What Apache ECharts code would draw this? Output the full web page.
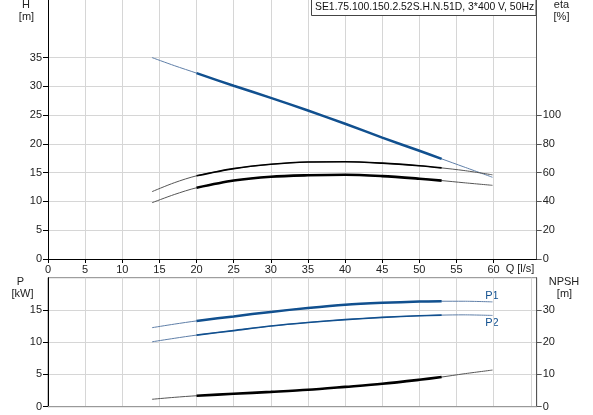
<!DOCTYPE html>
<html>
<head>
<meta charset="utf-8">
<script src="https://cdn.jsdelivr.net/npm/echarts@6/dist/echarts.min.js"></script>
<style>
  html, body { margin: 0; padding: 0; background: #fff; }
  #chart { width: 593px; height: 415px; }
</style>
</head>
<body>
<div id="chart"></div>
<script>
// flow points (l/s) where the curves were read
const flow = [14, 17, 20, 25, 30, 35, 40, 45, 50, 53, 56, 59.85];
const head = [35.0, 33.6, 32.3, 30.1, 28.0, 25.8, 23.5, 21.1, 18.8, 17.4, 16.0, 14.2];
const etaUpper = [46.8, 53.0, 57.8, 62.8, 65.8, 67.4, 67.6, 66.6, 64.8, 63.3, 61.5, 58.5];
const etaLower = [39.1, 44.8, 49.5, 54.5, 57.2, 58.2, 58.6, 57.6, 55.8, 54.5, 53.0, 51.2];
const powerP1 = [12.25, 12.8, 13.3, 14.0, 14.7, 15.3, 15.8, 16.1, 16.3, 16.35, 16.35, 16.25];
const powerP2 = [10.06, 10.6, 11.1, 11.8, 12.5, 13.05, 13.5, 13.85, 14.1, 14.2, 14.24, 14.15];
const npsh = [2.3, 2.9, 3.4, 4.0, 4.6, 5.25, 6.15, 7.1, 8.35, 9.2, 10.2, 11.36];

// operating range drawn thick
const opMin = 20, opMax = 53;

// tick labels
const qTicks = [0, 5, 10, 15, 20, 25, 30, 35, 40, 45, 50, 55, 60];
const hTicks = [0, 5, 10, 15, 20, 25, 30, 35];
const etaTicks = [0, 20, 40, 60, 80, 100];
const pTicks = [0, 5, 10, 15];
const npshTicks = [0, 10, 20, 30];

const title = 'SE1.75.100.150.2.52S.H.N.51D, 3*400 V, 50Hz';

const blue = '#11508f';
const font = 'Liberation Sans, Arial, sans-serif';

const pts = (ys) => flow.map((q, i) => [q, ys[i]]);
const opPts = (ys) => pts(ys).filter(p => p[0] >= opMin && p[0] <= opMax);

function curve(ys, xi, yi, color, thinColor, w) {
  return [
    { type: 'line', xAxisIndex: xi, yAxisIndex: yi, data: pts(ys), smooth: 0.3,
      showSymbol: false, silent: true, lineStyle: { color: thinColor, width: 1 } },
    { type: 'line', xAxisIndex: xi, yAxisIndex: yi, data: opPts(ys), smooth: 0.3,
      showSymbol: false, silent: true, lineStyle: { color: color, width: w, cap: 'butt' } }
  ];
}

const txt = { fontFamily: font, fontSize: 11, color: '#222' };
const grid = { color: '#d6d6d6', width: 1 };
const label = (x, y, text, fill) => ({
  type: 'text', x: x, y: y,
  style: { text: text, font: '11px ' + font, fill: fill || '#222', align: 'center', verticalAlign: 'middle' }
});

const myChart = echarts.init(document.getElementById('chart'));
myChart.setOption({
  animation: false,
  grid: [
    { left: 48, top: 0, right: 56.3, height: 259 },
    { left: 48, top: 277.7, right: 56.3, height: 129, show: true, borderColor: '#888', borderWidth: 1 }
  ],
  xAxis: [
    { gridIndex: 0, type: 'value', min: 0, max: 65.8, interval: 5,
      axisLine: { lineStyle: { color: '#000' } },
      axisTick: { customValues: qTicks, length: 4, lineStyle: { color: '#000' } },
      axisLabel: { customValues: qTicks, margin: 5, ...txt },
      splitLine: { lineStyle: grid } },
    { gridIndex: 1, type: 'value', min: 0, max: 65.8, interval: 5,
      axisLine: { lineStyle: { color: '#999' } },
      axisTick: { show: false }, axisLabel: { show: false },
      splitLine: { lineStyle: grid } }
  ],
  yAxis: [
    { gridIndex: 0, type: 'value', min: 0, max: 45, interval: 5,
      axisLine: { show: true, lineStyle: { color: '#000' } },
      axisTick: { show: true, customValues: hTicks, length: 5, lineStyle: { color: '#000' } },
      axisLabel: { customValues: hTicks, margin: 6, ...txt },
      splitLine: { lineStyle: grid } },
    { gridIndex: 0, type: 'value', position: 'right', min: 0, max: 180, interval: 20,
      axisLine: { show: true, lineStyle: { color: '#555' } },
      axisTick: { show: true, customValues: etaTicks, length: 5, lineStyle: { color: '#555' } },
      axisLabel: { customValues: etaTicks, margin: 6, ...txt },
      splitLine: { show: false } },
    { gridIndex: 1, type: 'value', min: 0, max: 20, interval: 5,
      axisLine: { show: true, lineStyle: { color: '#000' } },
      axisTick: { show: true, customValues: pTicks, length: 5, lineStyle: { color: '#000' } },
      axisLabel: { customValues: pTicks, margin: 6, ...txt },
      splitLine: { lineStyle: grid } },
    { gridIndex: 1, type: 'value', position: 'right', min: 0, max: 40, interval: 10,
      axisLine: { show: true, lineStyle: { color: '#555' } },
      axisTick: { show: true, customValues: npshTicks, length: 5, lineStyle: { color: '#555' } },
      axisLabel: { customValues: npshTicks, margin: 6, ...txt },
      splitLine: { show: false } }
  ],
  series: [
    ...curve(head, 0, 0, blue, '#5f7fa8', 2.5),
    ...curve(etaUpper, 0, 1, '#000', '#555', 1.6),
    ...curve(etaLower, 0, 1, '#000', '#555', 2.6),
    ...curve(powerP1, 1, 2, blue, '#5f7fa8', 2.5),
    ...curve(powerP2, 1, 2, blue, '#5f7fa8', 1.6),
    ...curve(npsh, 1, 3, '#000', '#555', 2.6)
  ],
  graphic: [
    { type: 'rect', shape: { x: 311.5, y: -1, width: 224.5, height: 16.5 },
      style: { fill: '#fff', stroke: '#444', lineWidth: 1 }, z: 100 },
    { type: 'text', x: 315, y: 7.5, z: 101,
      style: { text: title, font: '10.4px ' + font, fill: '#111', verticalAlign: 'middle' } },
    label(26, 5, 'H'),
    label(26.5, 17, '[m]'),
    label(561.5, 5, 'eta'),
    label(561.5, 17, '[%]'),
    label(520, 269, 'Q [l/s]'),
    label(20.5, 282, 'P'),
    label(22.5, 294, '[kW]'),
    label(564, 282, 'NPSH'),
    label(564.5, 294, '[m]'),
    label(492, 295.5, 'P1', blue),
    label(492, 322.5, 'P2', blue)
  ]
});
</script>
</body>
</html>
